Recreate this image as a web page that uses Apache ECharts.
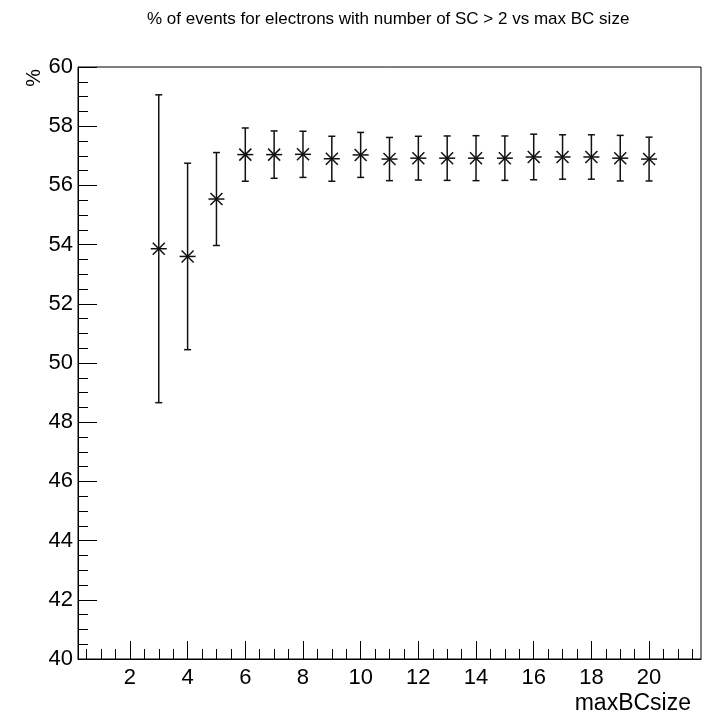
<!DOCTYPE html>
<html>
<head>
<meta charset="utf-8">
<script src="https://cdn.jsdelivr.net/npm/echarts@6/dist/echarts.min.js"></script>
<style>
  html, body { margin: 0; padding: 0; background: #fff; }
  #chart { width: 723px; height: 715px; }
</style>
</head>
<body>
<div id="chart"></div>
<script>
// maxBCsize bins and the measured percentage with its error
const xValues = [3, 4, 5, 6, 7, 8, 9, 10, 11, 12, 13, 14, 15, 16, 17, 18, 19, 20];
const yValues = [53.86, 53.60, 55.54, 57.04, 57.04, 57.05, 56.90, 57.03, 56.89, 56.92,
  56.92, 56.92, 56.92, 56.96, 56.96, 56.96, 56.92, 56.89];
const yErrors = [5.2, 3.15, 1.57, 0.9, 0.8, 0.78, 0.76, 0.76, 0.73, 0.74,
  0.75, 0.76, 0.75, 0.77, 0.75, 0.75, 0.77, 0.74];
const xMajorTicks = [2, 4, 6, 8, 10, 12, 14, 16, 18, 20];
const xMinorTicks = [0.5, 1, 1.5, 2.5, 3, 3.5, 4.5, 5, 5.5, 6.5, 7, 7.5, 8.5, 9, 9.5,
  10.5, 11, 11.5, 12.5, 13, 13.5, 14.5, 15, 15.5, 16.5, 17, 17.5, 18.5, 19, 19.5,
  20.5, 21, 21.5];

const FONT = "'Liberation Sans', Arial, sans-serif";

const points = xValues.map((x, i) => [x, yValues[i], yValues[i] - yErrors[i], yValues[i] + yErrors[i]]);

function renderPoint(params, api) {
  const c = api.coord([api.value(0), api.value(1)]);
  const lo = api.coord([api.value(0), api.value(2)]);
  const hi = api.coord([api.value(0), api.value(3)]);
  const style = { stroke: "#111", lineWidth: 1.5 };
  const seg = (x1, y1, x2, y2) => ({ type: "line", shape: { x1, y1, x2, y2 }, style });
  const cap = 3.5;
  const m = 8;
  const d = 6;
  return {
    type: "group",
    children: [
      seg(c[0], hi[1], c[0], lo[1]),
      seg(c[0] - cap, hi[1], c[0] + cap, hi[1]),
      seg(c[0] - cap, lo[1], c[0] + cap, lo[1]),
      seg(c[0] - m, c[1], c[0] + m, c[1]),
      seg(c[0] - d, c[1] - d, c[0] + d, c[1] + d),
      seg(c[0] - d, c[1] + d, c[0] + d, c[1] - d)
    ]
  };
}

const chart = echarts.init(document.getElementById("chart"), null, { renderer: "canvas" });

chart.setOption({
  animation: false,
  backgroundColor: "#fff",
  title: {
    text: "% of events for electrons with number of SC > 2 vs max BC size",
    left: 142,
    top: 6,
    textStyle: { fontFamily: FONT, fontSize: 17, fontWeight: "normal", color: "#000" }
  },
  graphic: [{
    type: "text",
    left: 24,
    top: 69,
    rotation: Math.PI / 2,
    style: { text: "%", font: "20px " + FONT, fill: "#000" }
  }],
  grid: {
    left: 78,
    right: 22,
    top: 67,
    bottom: 56,
    show: true,
    borderColor: "#000",
    borderWidth: 1
  },
  xAxis: [{
    type: "value",
    min: 0.2,
    max: 21.8,
    name: "maxBCsize",
    nameLocation: "end",
    nameGap: 0,
    nameTextStyle: {
      fontFamily: FONT, fontSize: 23, color: "#000",
      align: "right", verticalAlign: "top", padding: [33, 10, 0, 0]
    },
    axisLine: { show: true, lineStyle: { color: "#000", width: 1 } },
    axisTick: { show: true, inside: true, length: 18, customValues: xMajorTicks, lineStyle: { color: "#000", width: 1 } },
    axisLabel: { customValues: xMajorTicks, margin: 8, fontFamily: FONT, fontSize: 22, color: "#000" },
    splitLine: { show: false }
  }, {
    type: "value",
    min: 0.2,
    max: 21.8,
    position: "bottom",
    axisLine: { show: false },
    axisTick: { show: true, inside: true, length: 10, customValues: xMinorTicks, lineStyle: { color: "#000", width: 1 } },
    axisLabel: { show: false },
    splitLine: { show: false }
  }],
  yAxis: {
    type: "value",
    min: 40,
    max: 60,
    interval: 2,
    axisLine: { show: true, lineStyle: { color: "#000", width: 1 } },
    axisTick: { show: true, inside: true, length: 19, lineStyle: { color: "#000", width: 1 } },
    minorTick: { show: true, splitNumber: 4, length: 10, lineStyle: { color: "#000", width: 1 } },
    axisLabel: { margin: 5, fontFamily: FONT, fontSize: 22, color: "#000" },
    splitLine: { show: false }
  },
  series: [{
    type: "custom",
    xAxisIndex: 0,
    renderItem: renderPoint,
    data: points,
    encode: { x: 0, y: [1, 2, 3] },
    clip: false
  }]
});
</script>
</body>
</html>
